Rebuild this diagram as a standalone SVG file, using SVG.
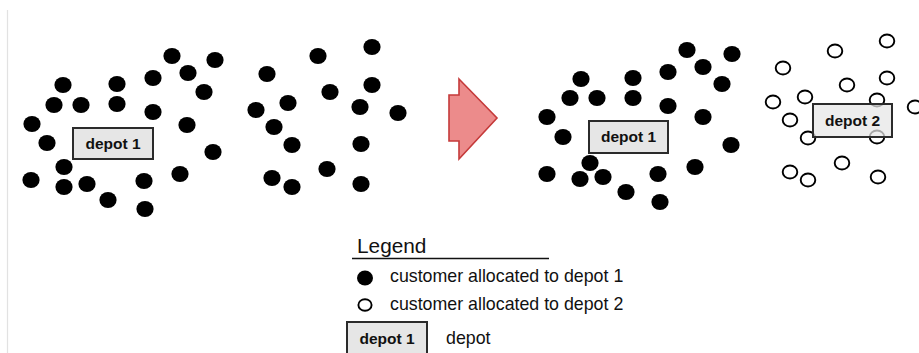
<svg xmlns="http://www.w3.org/2000/svg" width="919" height="353" viewBox="0 0 919 353">
  <style>
    .c1 { fill: #000; }
    .c2 { fill: #fff; stroke: #000; stroke-width: 1.9; }
    .depot rect { fill: #e6e6e6; stroke: #2b2b2b; stroke-width: 2; }
    .depot-open rect { fill: #e6e6e6; fill-opacity: 0.72; stroke: #2b2b2b; stroke-width: 2; }
    .lbl { font-family: "Liberation Sans", Arial, sans-serif; font-weight: bold; font-size: 15.5px; fill: #111; text-anchor: middle; }
    .txt { font-family: "Liberation Sans", Arial, sans-serif; font-size: 17.8px; fill: #111; }
  </style>

  <!-- page margin rule -->
  <line x1="7.5" y1="10" x2="7.5" y2="353" stroke="#e2e2e2" stroke-width="1.2"/>

  <!-- before: all customers served by depot 1 -->
  <g id="before-depot1-customers">
    <ellipse class="c1" cx="172" cy="56" rx="8.6" ry="8.1"/>
    <ellipse class="c1" cx="215" cy="60" rx="8.6" ry="8.1"/>
    <ellipse class="c1" cx="63" cy="85" rx="8.6" ry="8.1"/>
    <ellipse class="c1" cx="117" cy="84" rx="8.6" ry="8.1"/>
    <ellipse class="c1" cx="153" cy="78" rx="8.6" ry="8.1"/>
    <ellipse class="c1" cx="188" cy="73" rx="8.6" ry="8.1"/>
    <ellipse class="c1" cx="204" cy="92" rx="8.6" ry="8.1"/>
    <ellipse class="c1" cx="54" cy="105" rx="8.6" ry="8.1"/>
    <ellipse class="c1" cx="81" cy="105" rx="8.6" ry="8.1"/>
    <ellipse class="c1" cx="117" cy="104" rx="8.6" ry="8.1"/>
    <ellipse class="c1" cx="153" cy="112" rx="8.6" ry="8.1"/>
    <ellipse class="c1" cx="32" cy="124" rx="8.6" ry="8.1"/>
    <ellipse class="c1" cx="47" cy="143" rx="8.6" ry="8.1"/>
    <ellipse class="c1" cx="187" cy="125" rx="8.6" ry="8.1"/>
    <ellipse class="c1" cx="213" cy="152" rx="8.6" ry="8.1"/>
    <ellipse class="c1" cx="64" cy="167" rx="8.6" ry="8.1"/>
    <ellipse class="c1" cx="31" cy="180" rx="8.6" ry="8.1"/>
    <ellipse class="c1" cx="64" cy="187" rx="8.6" ry="8.1"/>
    <ellipse class="c1" cx="87" cy="184" rx="8.6" ry="8.1"/>
    <ellipse class="c1" cx="144" cy="181" rx="8.6" ry="8.1"/>
    <ellipse class="c1" cx="180" cy="174" rx="8.6" ry="8.1"/>
    <ellipse class="c1" cx="108" cy="200" rx="8.6" ry="8.1"/>
    <ellipse class="c1" cx="145" cy="209" rx="8.6" ry="8.1"/>

    <ellipse class="c1" cx="372" cy="47" rx="8.6" ry="8.1"/>
    <ellipse class="c1" cx="318" cy="56" rx="8.6" ry="8.1"/>
    <ellipse class="c1" cx="267" cy="74" rx="8.6" ry="8.1"/>
    <ellipse class="c1" cx="372" cy="85" rx="8.6" ry="8.1"/>
    <ellipse class="c1" cx="330" cy="92" rx="8.6" ry="8.1"/>
    <ellipse class="c1" cx="288" cy="103" rx="8.6" ry="8.1"/>
    <ellipse class="c1" cx="256" cy="110" rx="8.6" ry="8.1"/>
    <ellipse class="c1" cx="360" cy="107" rx="8.6" ry="8.1"/>
    <ellipse class="c1" cx="398" cy="113" rx="8.6" ry="8.1"/>
    <ellipse class="c1" cx="274" cy="127" rx="8.6" ry="8.1"/>
    <ellipse class="c1" cx="292" cy="145" rx="8.6" ry="8.1"/>
    <ellipse class="c1" cx="361" cy="144" rx="8.6" ry="8.1"/>
    <ellipse class="c1" cx="327" cy="169" rx="8.6" ry="8.1"/>
    <ellipse class="c1" cx="272" cy="178" rx="8.6" ry="8.1"/>
    <ellipse class="c1" cx="292" cy="187" rx="8.6" ry="8.1"/>
    <ellipse class="c1" cx="361" cy="184" rx="8.6" ry="8.1"/>
  </g>

  <g id="before-depot1" class="depot">
    <rect x="73" y="128" width="80" height="31"/>
    <text class="lbl" x="113" y="149">depot 1</text>
  </g>

  <!-- transition arrow -->
  <g id="transition">
    <path d="M459,79 L497,118 L459,159 L459,141 L449,141 L449,95 L459,95 Z" fill="#ec8b8b" stroke="#c53a3a" stroke-width="1.6" stroke-linejoin="miter"/>
  </g>

  <!-- after: customers kept by depot 1 -->
  <g id="after-depot1-customers">
    <ellipse class="c1" cx="687" cy="50" rx="8.6" ry="8.1"/>
    <ellipse class="c1" cx="732" cy="54" rx="8.6" ry="8.1"/>
    <ellipse class="c1" cx="581" cy="79" rx="8.6" ry="8.1"/>
    <ellipse class="c1" cx="633" cy="78" rx="8.6" ry="8.1"/>
    <ellipse class="c1" cx="668" cy="72" rx="8.6" ry="8.1"/>
    <ellipse class="c1" cx="703" cy="67" rx="8.6" ry="8.1"/>
    <ellipse class="c1" cx="722" cy="84" rx="8.6" ry="8.1"/>
    <ellipse class="c1" cx="570" cy="98" rx="8.6" ry="8.1"/>
    <ellipse class="c1" cx="597" cy="98" rx="8.6" ry="8.1"/>
    <ellipse class="c1" cx="633" cy="98" rx="8.6" ry="8.1"/>
    <ellipse class="c1" cx="668" cy="106" rx="8.6" ry="8.1"/>
    <ellipse class="c1" cx="547" cy="117" rx="8.6" ry="8.1"/>
    <ellipse class="c1" cx="563" cy="137" rx="8.6" ry="8.1"/>
    <ellipse class="c1" cx="703" cy="117" rx="8.6" ry="8.1"/>
    <ellipse class="c1" cx="731" cy="145" rx="8.6" ry="8.1"/>
    <ellipse class="c1" cx="590" cy="163" rx="8.6" ry="8.1"/>
    <ellipse class="c1" cx="547" cy="174" rx="8.6" ry="8.1"/>
    <ellipse class="c1" cx="580" cy="179" rx="8.6" ry="8.1"/>
    <ellipse class="c1" cx="603" cy="177" rx="8.6" ry="8.1"/>
    <ellipse class="c1" cx="658" cy="174" rx="8.6" ry="8.1"/>
    <ellipse class="c1" cx="695" cy="167" rx="8.6" ry="8.1"/>
    <ellipse class="c1" cx="626" cy="192" rx="8.6" ry="8.1"/>
    <ellipse class="c1" cx="660" cy="202" rx="8.6" ry="8.1"/>
  </g>

  <g id="after-depot1" class="depot">
    <rect x="589" y="121" width="79" height="32"/>
    <text class="lbl" x="628.5" y="142">depot 1</text>
  </g>

  <!-- after: customers moved to depot 2 -->
  <g id="after-depot2-customers">
    <ellipse class="c2" cx="887" cy="41" rx="7.3" ry="6.5"/>
    <ellipse class="c2" cx="835" cy="51" rx="7.3" ry="6.5"/>
    <ellipse class="c2" cx="783" cy="68" rx="7.3" ry="6.5"/>
    <ellipse class="c2" cx="887" cy="78" rx="7.3" ry="6.5"/>
    <ellipse class="c2" cx="847" cy="85" rx="7.3" ry="6.5"/>
    <ellipse class="c2" cx="805" cy="97" rx="7.3" ry="6.5"/>
    <ellipse class="c2" cx="773" cy="102" rx="7.3" ry="6.5"/>
    <ellipse class="c2" cx="877" cy="100" rx="7.3" ry="6.5"/>
    <ellipse class="c2" cx="915" cy="107" rx="7.3" ry="6.5"/>
    <ellipse class="c2" cx="790" cy="120" rx="7.3" ry="6.5"/>
    <ellipse class="c2" cx="808" cy="138" rx="7.3" ry="6.5"/>
    <ellipse class="c2" cx="877" cy="137" rx="7.3" ry="6.5"/>
    <ellipse class="c2" cx="842" cy="163" rx="7.3" ry="6.5"/>
    <ellipse class="c2" cx="790" cy="172" rx="7.3" ry="6.5"/>
    <ellipse class="c2" cx="808" cy="180" rx="7.3" ry="6.5"/>
    <ellipse class="c2" cx="878" cy="177" rx="7.3" ry="6.5"/>
  </g>

  <g id="after-depot2" class="depot-open">
    <rect x="813" y="104" width="79" height="33"/>
    <text class="lbl" x="852.5" y="126">depot 2</text>
  </g>

  <!-- legend -->
  <g id="legend">
    <text class="txt" x="357" y="253" style="font-size:20.8px">Legend</text>
    <line x1="352" y1="258.5" x2="549" y2="258.5" stroke="#111" stroke-width="1.5"/>
    <ellipse class="c1" cx="365" cy="278" rx="8" ry="7.4"/>
    <text class="txt" x="390" y="282">customer allocated to depot 1</text>
    <ellipse class="c2" cx="365" cy="305" rx="6.6" ry="5.8"/>
    <text class="txt" x="390" y="310">customer allocated to depot 2</text>
    <g class="depot">
      <rect x="347" y="322" width="80" height="40"/>
      <text class="lbl" x="387" y="344">depot 1</text>
    </g>
    <text class="txt" x="446" y="344">depot</text>
  </g>
</svg>
